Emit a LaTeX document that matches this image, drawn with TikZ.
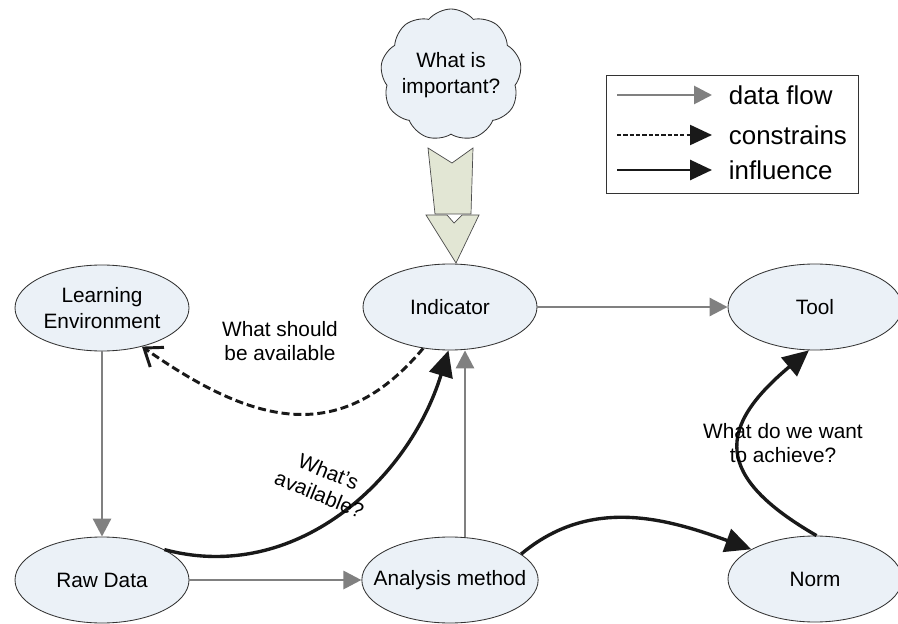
\documentclass[tikz,border=0pt]{standalone}
\usepackage{fontspec}
\setmainfont{Liberation Sans}
\usetikzlibrary{arrows.meta,shapes.geometric,shapes.symbols}
\definecolor{nodefill}{RGB}{235,241,247}
\definecolor{flowgray}{RGB}{128,128,128}
\definecolor{bigarrow}{RGB}{226,230,212}
\tikzset{
  box/.style={ellipse, draw=black!80, line width=0.6pt, fill=nodefill, minimum width=4.35cm, minimum height=2.15cm, inner sep=0pt, align=center, font=\fontsize{14.8}{18.5}\selectfont},
  flow/.style={draw=flowgray, line width=2.1pt, -{Triangle[length=0.45cm,width=0.45cm]}},
  infl/.style={draw=black!90, line width=2.4pt, -{Triangle[length=0.65cm,width=0.6cm]}},
  cons/.style={draw=black!90, line width=2.1pt, dash pattern=on 5.7pt off 2.8pt, -{Straight Barb[length=0.4cm,width=0.6cm]}},
  lbl/.style={align=center, font=\fontsize{14.8}{17.5}\selectfont},
  legtext/.style={anchor=west, font=\fontsize{18.4}{21}\selectfont}
}
\begin{document}
\begin{tikzpicture}
	\useasboundingbox (0,0) rectangle (22.45,15.575);
	% Nodes
	\node [box] (env) at (2.55,7.875) {Learning\\Environment};
	\node [box] (ind) at (11.25,7.9) {Indicator};
	\node [box] (tool) at (20.375,7.9) {Tool};
	\node [box] (raw) at (2.55,1.075) {Raw Data};
	\node [box, inner xsep=-0.35cm] (ana) at (11.25,1.075) {Analysis method};
	\node [box] (norm) at (20.375,1.1) {Norm};
	% What is important
	\node [cloud, cloud puffs=9, cloud puff arc=100, cloud ignores aspect, draw=black!80, line width=0.6pt, fill=nodefill, inner sep=0pt, minimum width=3.5cm, minimum height=3.3cm, align=center, font=\fontsize{14.8}{19}\selectfont] (imp) at (11.275,13.7) {What is\\important?};
	\draw [fill=bigarrow, draw=black!70, line width=0.5pt] (10.7,11.875) -- (11.3,11.5) -- (11.825,11.875) -- (11.775,10.225) -- (10.875,10.225) -- cycle;
	\draw [fill=bigarrow, draw=black!70, line width=0.5pt] (10.65,10.2) -- (11.175,10.2) -- (11.35,10.0) -- (11.55,10.2) -- (11.975,10.2) -- (11.4,9.0) -- cycle;
	% Data flow
	\draw [flow] (env) -- (raw);
	\draw [flow] (raw) -- (ana);
	\draw [flow] ([xshift=0.375cm]ana.north) -- ([xshift=0.375cm]ind.south);
	\draw [flow] (ind) -- (tool);
	% Constrains and influence
	\draw [cons] (ind.237) to [out=-130, in=-35, looseness=1.2] (env.-44);
	\draw [infl] (raw.26) to [out=-15, in=-107] (ind.268);
	\draw [infl] (ana.20) to [out=40, in=160] (norm.155);
	\draw [infl] (norm.88) to [out=150, in=220, looseness=1.65] (tool.262);
	% Labels
	\node [lbl] (should) at (7.0,7.05) {What should\\be available};
	\node [lbl, rotate=-22] (avail) at (8.1,3.5) {What’s\\available?};
	\node [lbl] (goal) at (19.575,4.5) {What do we want\\to achieve?};
	% Legend
	\draw [line width=0.6pt, draw=black!80] (15.15,10.75) rectangle (21.45,13.7);
	\node [legtext] (lflow) at (18.1,13.2) {data flow};
	\node [legtext] (lcons) at (18.1,12.2) {constrains};
	\node [legtext] (linfl) at (18.1,11.325) {influence};
	\draw [flow, line width=2pt] ([xshift=-2.675cm]lflow.west) -- ([xshift=-0.3cm]lflow.west);
	\draw [draw=black!90, line width=1.6pt, dash pattern=on 3pt off 1.5pt, -{Triangle[length=0.55cm,width=0.5cm]}] ([xshift=-2.675cm]lcons.west) -- ([xshift=-0.3cm]lcons.west);
	\draw [draw=black!90, line width=2pt, -{Triangle[length=0.55cm,width=0.5cm]}] ([xshift=-2.675cm]linfl.west) -- ([xshift=-0.3cm]linfl.west);
\end{tikzpicture}
\end{document}
